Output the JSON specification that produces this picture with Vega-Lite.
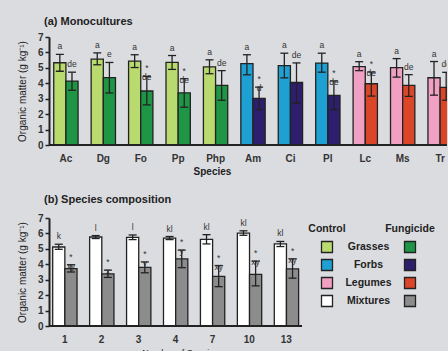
{
  "$schema": "https://vega.github.io/schema/vega-lite/v6.json",
  "background": "#dadce0",
  "padding": {"left": 17, "top": 16, "right": 0, "bottom": 0},
  "spacing": 18,
  "config": {
    "view": {"stroke": null},
    "font": "Liberation Sans",
    "axis": {
      "grid": false,
      "labelOverlap": false,
      "labelFont": "Liberation Sans",
      "labelFontSize": 10,
      "labelFontWeight": "bold",
      "labelColor": "#333333",
      "titleFont": "Liberation Sans",
      "titleColor": "#222222",
      "domainColor": "#222222",
      "tickColor": "#222222"
    },
    "axisY": {"tickCount": 10, "format": "d", "labelOverlap": false},
    "title": {"font": "Liberation Sans", "color": "#222222"}
  },
  "datasets": {
    "mono": [
      {"sp": "Ac", "trt": "Control", "key": "Grasses Control", "mean": 5.33, "lo": 4.78, "hi": 5.88, "lab": "a"},
      {"sp": "Ac", "trt": "Fungicide", "key": "Grasses Fungicide", "mean": 4.14, "lo": 3.55, "hi": 4.72, "lab": "de"},
      {"sp": "Dg", "trt": "Control", "key": "Grasses Control", "mean": 5.57, "lo": 5.2, "hi": 5.97, "lab": "a"},
      {"sp": "Dg", "trt": "Fungicide", "key": "Grasses Fungicide", "mean": 4.37, "lo": 3.37, "hi": 5.35, "lab": "e"},
      {"sp": "Fo", "trt": "Control", "key": "Grasses Control", "mean": 5.43, "lo": 5.02, "hi": 5.85, "lab": "a"},
      {"sp": "Fo", "trt": "Fungicide", "key": "Grasses Fungicide", "mean": 3.5, "lo": 2.6, "hi": 4.45, "lab": "*\nde"},
      {"sp": "Pp", "trt": "Control", "key": "Grasses Control", "mean": 5.35, "lo": 4.9, "hi": 5.8, "lab": "a"},
      {"sp": "Pp", "trt": "Fungicide", "key": "Grasses Fungicide", "mean": 3.38, "lo": 2.45, "hi": 4.3, "lab": "*\nde"},
      {"sp": "Php", "trt": "Control", "key": "Grasses Control", "mean": 5.07, "lo": 4.62, "hi": 5.52, "lab": "a"},
      {"sp": "Php", "trt": "Fungicide", "key": "Grasses Fungicide", "mean": 3.86, "lo": 2.9, "hi": 4.82, "lab": "de"},
      {"sp": "Am", "trt": "Control", "key": "Forbs Control", "mean": 5.28, "lo": 4.55, "hi": 5.85, "lab": "a"},
      {"sp": "Am", "trt": "Fungicide", "key": "Forbs Fungicide", "mean": 3.02, "lo": 2.3, "hi": 3.75, "lab": "*\nd"},
      {"sp": "Ci", "trt": "Control", "key": "Forbs Control", "mean": 5.15, "lo": 4.35, "hi": 5.95, "lab": "a"},
      {"sp": "Ci", "trt": "Fungicide", "key": "Forbs Fungicide", "mean": 4.05, "lo": 2.72, "hi": 5.32, "lab": "de"},
      {"sp": "Pl", "trt": "Control", "key": "Forbs Control", "mean": 5.31, "lo": 4.72, "hi": 5.95, "lab": "a"},
      {"sp": "Pl", "trt": "Fungicide", "key": "Forbs Fungicide", "mean": 3.21, "lo": 2.3, "hi": 4.15, "lab": "*\nde"},
      {"sp": "Lc", "trt": "Control", "key": "Legumes Control", "mean": 5.08, "lo": 4.82, "hi": 5.4, "lab": "a"},
      {"sp": "Lc", "trt": "Fungicide", "key": "Legumes Fungicide", "mean": 3.97, "lo": 3.17, "hi": 4.73, "lab": "*\nde"},
      {"sp": "Ms", "trt": "Control", "key": "Legumes Control", "mean": 5.01, "lo": 4.4, "hi": 5.6, "lab": "a"},
      {"sp": "Ms", "trt": "Fungicide", "key": "Legumes Fungicide", "mean": 3.86, "lo": 3.15, "hi": 4.56, "lab": "de"},
      {"sp": "Tr", "trt": "Control", "key": "Legumes Control", "mean": 4.36, "lo": 3.23, "hi": 5.41, "lab": "a"},
      {"sp": "Tr", "trt": "Fungicide", "key": "Legumes Fungicide", "mean": 3.73, "lo": 2.9, "hi": 4.71, "lab": "de"}
    ],
    "mix": [
      {"sp": "1", "trt": "Control", "key": "Mixtures Control", "mean": 5.12, "lo": 4.97, "hi": 5.3, "lab": "k"},
      {"sp": "1", "trt": "Fungicide", "key": "Mixtures Fungicide", "mean": 3.72, "lo": 3.5, "hi": 3.97, "lab": "*\nxy"},
      {"sp": "2", "trt": "Control", "key": "Mixtures Control", "mean": 5.77, "lo": 5.67, "hi": 5.86, "lab": "l"},
      {"sp": "2", "trt": "Fungicide", "key": "Mixtures Fungicide", "mean": 3.38, "lo": 3.15, "hi": 3.62, "lab": "*\nx"},
      {"sp": "3", "trt": "Control", "key": "Mixtures Control", "mean": 5.75, "lo": 5.6, "hi": 5.9, "lab": "l"},
      {"sp": "3", "trt": "Fungicide", "key": "Mixtures Fungicide", "mean": 3.8, "lo": 3.45, "hi": 4.15, "lab": "*\ny"},
      {"sp": "4", "trt": "Control", "key": "Mixtures Control", "mean": 5.7, "lo": 5.6, "hi": 5.8, "lab": "kl"},
      {"sp": "4", "trt": "Fungicide", "key": "Mixtures Fungicide", "mean": 4.35, "lo": 3.78, "hi": 4.92, "lab": "*\ny"},
      {"sp": "7", "trt": "Control", "key": "Mixtures Control", "mean": 5.62, "lo": 5.32, "hi": 5.92, "lab": "kl"},
      {"sp": "7", "trt": "Fungicide", "key": "Mixtures Fungicide", "mean": 3.22, "lo": 2.55, "hi": 3.92, "lab": "*\nxy"},
      {"sp": "10", "trt": "Control", "key": "Mixtures Control", "mean": 6.02, "lo": 5.88, "hi": 6.17, "lab": "kl"},
      {"sp": "10", "trt": "Fungicide", "key": "Mixtures Fungicide", "mean": 3.35, "lo": 2.6, "hi": 4.2, "lab": "*\nxy"},
      {"sp": "13", "trt": "Control", "key": "Mixtures Control", "mean": 5.32, "lo": 5.15, "hi": 5.48, "lab": "kl"},
      {"sp": "13", "trt": "Fungicide", "key": "Mixtures Fungicide", "mean": 3.7, "lo": 3.1, "hi": 4.35, "lab": "*\nxy"}
    ],
    "legsw": [
      {"col": "Control", "row": "Grasses", "key": "Grasses Control"},
      {"col": "Fungicide", "row": "Grasses", "key": "Grasses Fungicide"},
      {"col": "Control", "row": "Forbs", "key": "Forbs Control"},
      {"col": "Fungicide", "row": "Forbs", "key": "Forbs Fungicide"},
      {"col": "Control", "row": "Legumes", "key": "Legumes Control"},
      {"col": "Fungicide", "row": "Legumes", "key": "Legumes Fungicide"},
      {"col": "Control", "row": "Mixtures", "key": "Mixtures Control"},
      {"col": "Fungicide", "row": "Mixtures", "key": "Mixtures Fungicide"}
    ],
    "legtx": [
      {"col": "Control", "row": "h", "txt": "Control"},
      {"col": "Fungicide", "row": "h", "txt": "Fungicide"},
      {"col": "Label", "row": "Grasses", "txt": "Grasses"},
      {"col": "Label", "row": "Forbs", "txt": "Forbs"},
      {"col": "Label", "row": "Legumes", "txt": "Legumes"},
      {"col": "Label", "row": "Mixtures", "txt": "Mixtures"}
    ]
  },
  "vconcat": [
    {
      "title": {"text": "(a)  Monocultures", "anchor": "start", "frame": "group", "fontSize": 11, "fontWeight": "bold", "dx": -5, "offset": 5},
      "width": 398,
      "height": 108,
      "data": {"name": "mono"},
      "layer": [
        {
          "encoding": {
            "x": {"field": "sp", "type": "nominal", "sort": null,
                  "scale": {"range": [1, 407], "paddingInner": 0.35, "paddingOuter": 0.1},
                  "axis": {"title": "Species", "labelAngle": 0, "domain": false, "ticks": false, "labelPadding": 8, "titleFontSize": 10, "titleFontWeight": "bold", "titlePadding": 3, "titleX": 163}},
            "xOffset": {"field": "trt", "type": "nominal", "sort": ["Control", "Fungicide"]}
          },
          "layer": [
            {"mark": {"type": "bar", "stroke": "#222222", "strokeWidth": 1.3, "clip": true},
             "encoding": {
               "y": {"field": "mean", "type": "quantitative", "scale": {"domain": [0, 7]},
                     "axis": {"title": "Organic matter    (g kg⁻¹)", "values": [0, 1, 2, 3, 4, 5, 6, 7], "tickCount": 10, "format": "d", "labelOverlap": false, "domainWidth": 2, "tickSize": 4, "tickWidth": 1.5, "titleFontSize": 10, "titleFontWeight": "normal", "titlePadding": 10}},
               "fill": {"field": "key", "type": "nominal", "legend": null,
                        "scale": {"domain": ["Grasses Control", "Grasses Fungicide", "Forbs Control", "Forbs Fungicide", "Legumes Control", "Legumes Fungicide", "Mixtures Control", "Mixtures Fungicide"],
                                  "range": ["#b8da6e", "#1e9646", "#1ea0d2", "#2d1e6e", "#f0a0c3", "#dc4628", "#ffffff", "#8c8c8c"]}}
             }},
            {"mark": {"type": "rule", "color": "#222222", "strokeWidth": 1.3, "clip": true},
             "encoding": {"y": {"field": "lo", "type": "quantitative"}, "y2": {"field": "hi"}}},
            {"mark": {"type": "tick", "color": "#222222", "thickness": 1.3, "size": 8, "opacity": 1, "clip": true},
             "encoding": {"y": {"field": "lo", "type": "quantitative"}}},
            {"mark": {"type": "tick", "color": "#222222", "thickness": 1.3, "size": 8, "opacity": 1, "clip": true},
             "encoding": {"y": {"field": "hi", "type": "quantitative"}}},
            {"mark": {"type": "text", "baseline": "bottom", "dy": -3, "fontSize": 8.5, "lineBreak": "\n", "lineHeight": 9, "color": "#333333", "clip": true},
             "encoding": {"y": {"field": "hi", "type": "quantitative"}, "text": {"field": "lab"}}}
          ]
        },
        {"mark": {"type": "rule", "color": "#222222", "strokeWidth": 2},
         "encoding": {"y": {"datum": 0, "type": "quantitative",
                            "axis": {"title": "Organic matter    (g kg⁻¹)", "values": [0, 1, 2, 3, 4, 5, 6, 7], "tickCount": 10, "format": "d", "labelOverlap": false, "domainWidth": 2, "tickSize": 4, "tickWidth": 1.5, "titleFontSize": 10, "titleFontWeight": "normal", "titlePadding": 10}}}}
      ]
    },
    {
      "spacing": 5,
      "hconcat": [
        {
          "title": {"text": "(b)  Species composition", "anchor": "start", "frame": "group", "fontSize": 11, "fontWeight": "bold", "dx": -5, "offset": 8},
          "width": 253,
          "height": 108,
          "data": {"name": "mix"},
          "layer": [
            {
              "encoding": {
                "x": {"field": "sp", "type": "nominal", "sort": null,
                      "scale": {"paddingInner": 0.35, "paddingOuter": 0.1},
                      "axis": {"title": "Number of Species", "labelAngle": 0, "domain": false, "ticks": false, "labelPadding": 8, "titleFontSize": 9, "titleFontWeight": "normal", "titlePadding": 4, "titleX": 131}},
                "xOffset": {"field": "trt", "type": "nominal", "sort": ["Control", "Fungicide"]}
              },
              "layer": [
                {"mark": {"type": "bar", "stroke": "#222222", "strokeWidth": 1.3},
                 "encoding": {
                   "y": {"field": "mean", "type": "quantitative", "scale": {"domain": [0, 7]},
                         "axis": {"title": "Organic matter    (g kg⁻¹)", "values": [0, 1, 2, 3, 4, 5, 6, 7], "tickCount": 10, "format": "d", "labelOverlap": false, "domainWidth": 2, "tickSize": 4, "tickWidth": 1.5, "titleFontSize": 10, "titleFontWeight": "normal", "titlePadding": 10}},
                   "fill": {"field": "key", "type": "nominal", "legend": null,
                            "scale": {"domain": ["Grasses Control", "Grasses Fungicide", "Forbs Control", "Forbs Fungicide", "Legumes Control", "Legumes Fungicide", "Mixtures Control", "Mixtures Fungicide"],
                                      "range": ["#b8da6e", "#1e9646", "#1ea0d2", "#2d1e6e", "#f0a0c3", "#dc4628", "#ffffff", "#8c8c8c"]}}
                 }},
                {"mark": {"type": "rule", "color": "#222222", "strokeWidth": 1.3},
                 "encoding": {"y": {"field": "lo", "type": "quantitative"}, "y2": {"field": "hi"}}},
                {"mark": {"type": "tick", "color": "#222222", "thickness": 1.3, "size": 8, "opacity": 1},
                 "encoding": {"y": {"field": "lo", "type": "quantitative"}}},
                {"mark": {"type": "tick", "color": "#222222", "thickness": 1.3, "size": 8, "opacity": 1},
                 "encoding": {"y": {"field": "hi", "type": "quantitative"}}},
                {"mark": {"type": "text", "baseline": "bottom", "dy": -3, "fontSize": 8.5, "lineBreak": "\n", "lineHeight": 9, "color": "#333333"},
                 "encoding": {"y": {"field": "hi", "type": "quantitative"}, "text": {"field": "lab"}}}
              ]
            },
            {"mark": {"type": "rule", "color": "#222222", "strokeWidth": 2},
             "encoding": {"y": {"datum": 0, "type": "quantitative",
                                "axis": {"title": "Organic matter    (g kg⁻¹)", "values": [0, 1, 2, 3, 4, 5, 6, 7], "tickCount": 10, "format": "d", "labelOverlap": false, "domainWidth": 2, "tickSize": 4, "tickWidth": 1.5, "titleFontSize": 10, "titleFontWeight": "normal", "titlePadding": 10}}}}
          ]
        },
        {
          "width": 83,
          "height": 94,
          "layer": [
            {"data": {"name": "legtx"},
             "mark": {"type": "text", "fontSize": 10.5, "fontWeight": "bold", "color": "#222222"},
             "encoding": {
               "x": {"field": "col", "type": "ordinal", "scale": {"type": "point", "domain": ["Control", "Label", "Fungicide"], "padding": 0}, "axis": null},
               "y": {"field": "row", "type": "ordinal", "scale": {"type": "point", "domain": ["h", "Grasses", "Forbs", "Legumes", "Mixtures"], "padding": 0.61}, "axis": null},
               "text": {"field": "txt"}
             }},
            {"data": {"name": "legsw"},
             "mark": {"type": "square", "size": 121, "stroke": "#222222", "strokeWidth": 1.3, "opacity": 1},
             "encoding": {
               "x": {"field": "col", "type": "ordinal", "scale": {"type": "point", "domain": ["Control", "Label", "Fungicide"], "padding": 0}, "axis": null},
               "y": {"field": "row", "type": "ordinal", "scale": {"type": "point", "domain": ["h", "Grasses", "Forbs", "Legumes", "Mixtures"], "padding": 0.61}, "axis": null},
               "fill": {"field": "key", "type": "nominal", "legend": null,
                        "scale": {"domain": ["Grasses Control", "Grasses Fungicide", "Forbs Control", "Forbs Fungicide", "Legumes Control", "Legumes Fungicide", "Mixtures Control", "Mixtures Fungicide"],
                                  "range": ["#b8da6e", "#1e9646", "#1ea0d2", "#2d1e6e", "#f0a0c3", "#dc4628", "#ffffff", "#8c8c8c"]}}
             }}
          ]
        }
      ]
    }
  ]
}
